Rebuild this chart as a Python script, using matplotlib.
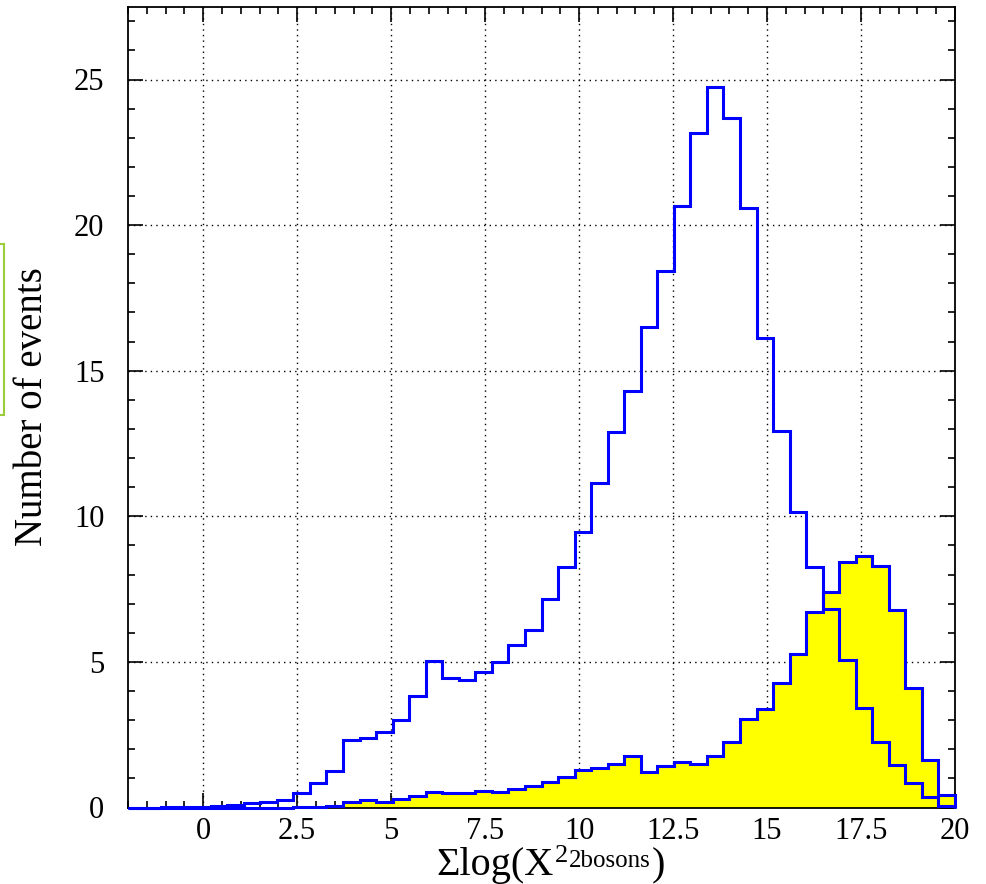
import numpy as np
import matplotlib
matplotlib.use("Agg")
import matplotlib.pyplot as plt
from matplotlib.patches import Rectangle
from matplotlib.ticker import MultipleLocator

plt.rcParams['font.family'] = ['Liberation Serif', 'DejaVu Serif']

# ---- data ----
x_min, x_max, n_bins = -2.0, 20.0, 50
signal = [0.0, 0.0, 0.01, 0.02, 0.03, 0.06, 0.10, 0.14, 0.18, 0.26,
          0.49, 0.83, 1.26, 2.32, 2.38, 2.58, 3.00, 3.84, 5.04, 4.44,
          4.38, 4.66, 5.00, 5.57, 6.08, 7.16, 8.26, 9.45, 11.13, 12.88,
          14.30, 16.51, 18.43, 20.65, 23.15, 24.73, 23.67, 20.58, 16.13, 12.92,
          10.16, 8.25, 6.82, 5.08, 3.43, 2.26, 1.46, 0.83, 0.35, 0.06]
background = [0.0, 0.0, 0.0, 0.0, 0.0, 0.0, 0.0, 0.0, 0.0, 0.0,
              0.01, 0.02, 0.06, 0.18, 0.26, 0.20, 0.30, 0.40, 0.54, 0.51,
              0.51, 0.57, 0.52, 0.62, 0.74, 0.89, 1.04, 1.29, 1.35, 1.48,
              1.77, 1.21, 1.43, 1.55, 1.49, 1.77, 2.26, 3.03, 3.38, 4.26,
              5.28, 6.72, 7.40, 8.44, 8.65, 8.29, 6.78, 4.09, 1.63, 0.43]
x_ticks = [0, 2.5, 5, 7.5, 10, 12.5, 15, 17.5, 20]
x_tick_labels = ['0', '2.5', '5', '7.5', '10', '12.5', '15', '17.5', '20']
y_ticks = [0, 5, 10, 15, 20, 25]
y_max = 27.5

edges = np.linspace(x_min, x_max, n_bins + 1)

W, H = 986, 884
fig = plt.figure(figsize=(W / 100, H / 100), dpi=100)
ax = fig.add_axes([128 / W, 1 - 807.5 / H, (955 - 128) / W, (807.5 - 6.7) / H])

ax.stairs(background, edges, fill=True, color='#ffff00', zorder=2)
ax.stairs(background, edges, color='#0000ff', lw=2.2, zorder=3, clip_on=False)
ax.stairs(signal, edges, color='#0000ff', lw=2.2, zorder=4, clip_on=False)

ax.set_xlim(x_min, x_max)
ax.set_ylim(0, y_max)
ax.set_xticks(x_ticks)
ax.set_xticklabels(x_tick_labels)
ax.set_yticks(y_ticks)
ax.xaxis.set_minor_locator(MultipleLocator(0.5))
ax.yaxis.set_minor_locator(MultipleLocator(1))
ax.tick_params(which='both', direction='in', top=True, right=True, width=1.2, color='black')
ax.tick_params(which='major', length=11)
ax.tick_params(which='minor', length=5)
ax.tick_params(axis='x', which='major', labelsize=22, pad=7)
ax.tick_params(axis='y', which='major', labelsize=22, pad=17)
for s in ax.spines.values():
    s.set_linewidth(1.3)
ax.grid(True, which='major', color='black', linestyle=(0, (1, 3)), linewidth=1.0, zorder=1)
ax.set_axisbelow(True)

# y label
fig.text(33 / W, 1 - 407 / H, 'Number of events', rotation=90, ha='center', va='center', fontsize=28)

# x label built piecewise
fig.canvas.draw()
renderer = fig.canvas.get_renderer()
x0 = 436
base = 875
pieces = [('Σlog(X', 29, 0), ('2', 19, 13), ('2bosons', 18, 8), (')', 29, 0)]
cur = x0
for txt, fs, raise_px in pieces:
    t = fig.text(cur / W, (H - base + raise_px) / H, txt, fontsize=fs, ha='left', va='baseline')
    bb = t.get_window_extent(renderer)
    cur = bb.x1 + 1

# partial green box at left edge
fig.patches.append(Rectangle((-20 / W, 1 - 415 / H), 23.5 / W, (415 - 243.5) / H,
                             transform=fig.transFigure, fill=False,
                             edgecolor='#9ccc3a', linewidth=1.5))

fig.savefig('out.png', dpi=100)
